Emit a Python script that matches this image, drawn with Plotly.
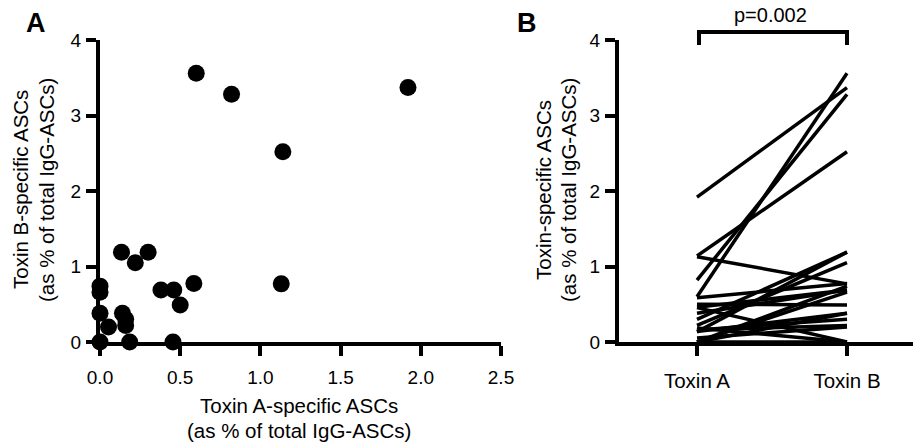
import plotly.graph_objects as go

# ---- data ----
toxin_a = [0.60, 0.82, 1.92, 1.14, 1.13, 0.134, 0.30, 0.22, 0.38, 0.46, 0.50,
           0.585, 0.0, 0.0, 0.0, 0.053, 0.14, 0.16, 0.16, 0.0, 0.185, 0.455]
toxin_b = [3.56, 3.28, 3.37, 2.52, 0.77, 1.19, 1.19, 1.05, 0.69, 0.69, 0.49,
           0.775, 0.74, 0.66, 0.38, 0.20, 0.38, 0.30, 0.22, 0.0, 0.0, 0.0]
categories = ["Toxin A", "Toxin B"]
x_ticks = [0.0, 0.5, 1.0, 1.5, 2.0, 2.5]
x_tick_labels = ["0.0", "0.5", "1.0", "1.5", "2.0", "2.5"]
y_ticks = [0, 1, 2, 3, 4]
y_tick_labels = ["0", "1", "2", "3", "4"]
p_label = "p=0.002"

W, H = 913, 444
FONT = "Liberation Sans, Arial, sans-serif"

def px(x):
    return x / W

def py(y):
    return 1 - y / H

fig = go.Figure()

fig.add_trace(go.Scatter(
    x=toxin_a, y=toxin_b, mode="markers",
    marker=dict(color="black", size=17, line=dict(width=0)),
    cliponaxis=False, xaxis="x", yaxis="y", showlegend=False, hoverinfo="x+y"))

xs, ys = [], []
for a, b in zip(toxin_a, toxin_b):
    xs += [categories[0], categories[1], None]
    ys += [a, b, None]
fig.add_trace(go.Scatter(
    x=xs, y=ys, mode="lines", line=dict(color="black", width=3.5),
    cliponaxis=False, xaxis="x2", yaxis="y2", showlegend=False, connectgaps=False))

axis_common = dict(
    showline=True, linecolor="black", linewidth=4,
    ticks="outside", ticklen=10, tickwidth=4, tickcolor="black",
    showgrid=False, zeroline=False, automargin=False,
)
num_font = dict(family=FONT, size=19, color="black")
cat_font = dict(family=FONT, size=20.5, color="black")

ydom = [py(342), py(40)]

fig.update_layout(
    template="none",
    width=W, height=H, autosize=False,
    margin=dict(l=0, r=0, t=0, b=0, pad=0),
    paper_bgcolor="white", plot_bgcolor="white",
    showlegend=False,
    xaxis=dict(domain=[px(100), px(501)], range=[0, 2.5], anchor="y",
               tickvals=x_ticks, ticktext=x_tick_labels, ticklabelstandoff=5,
               tickfont=num_font, **axis_common),
    yaxis=dict(domain=ydom, range=[0, 4], anchor="x",
               tickvals=y_ticks, ticktext=y_tick_labels, ticklabelstandoff=1,
               tickfont=num_font, **axis_common),
    xaxis2=dict(domain=[px(619), 1.0], type="category",
                categoryorder="array", categoryarray=categories,
                range=[-0.52, 1.44], anchor="y2", ticklabelstandoff=7,
                tickfont=cat_font, **axis_common),
    yaxis2=dict(domain=ydom, range=[0, 4], anchor="x2",
                tickvals=y_ticks, ticktext=y_tick_labels, ticklabelstandoff=1,
                tickfont=num_font, **axis_common),
)

def ann(text, x, y, size=20.5, angle=0, bold=False):
    fig.add_annotation(
        text=f"<b>{text}</b>" if bold else text,
        x=px(x), y=py(y), xref="paper", yref="paper",
        xanchor="center", yanchor="middle", showarrow=False,
        textangle=angle, font=dict(family=FONT, size=size, color="black"))

ann("A", 36, 23, size=27, bold=True)
ann("B", 527, 23, size=27, bold=True)
ann("Toxin B-specific ASCs", 20, 190, angle=-90)
ann("(as % of total IgG-ASCs)", 46, 190, angle=-90)
ann("Toxin A-specific ASCs", 299, 405)
ann("(as % of total IgG-ASCs)", 299, 430)
ann("Toxin-specific ASCs", 543, 190, angle=-90)
ann("(as % of total IgG-ASCs)", 568, 190, angle=-90)
ann(p_label, 770, 15, size=20)

fig.add_shape(
    type="path", xref="paper", yref="paper",
    path=f"M {px(699)} {py(45)} L {px(699)} {py(32)} L {px(847)} {py(32)} L {px(847)} {py(45)}",
    line=dict(color="black", width=4))

# remove the default 8px page margin so the figure sits at the window corner
fig.write_html("out.html", config={"displayModeBar": False},
               post_script="document.body.style.margin='0';")
